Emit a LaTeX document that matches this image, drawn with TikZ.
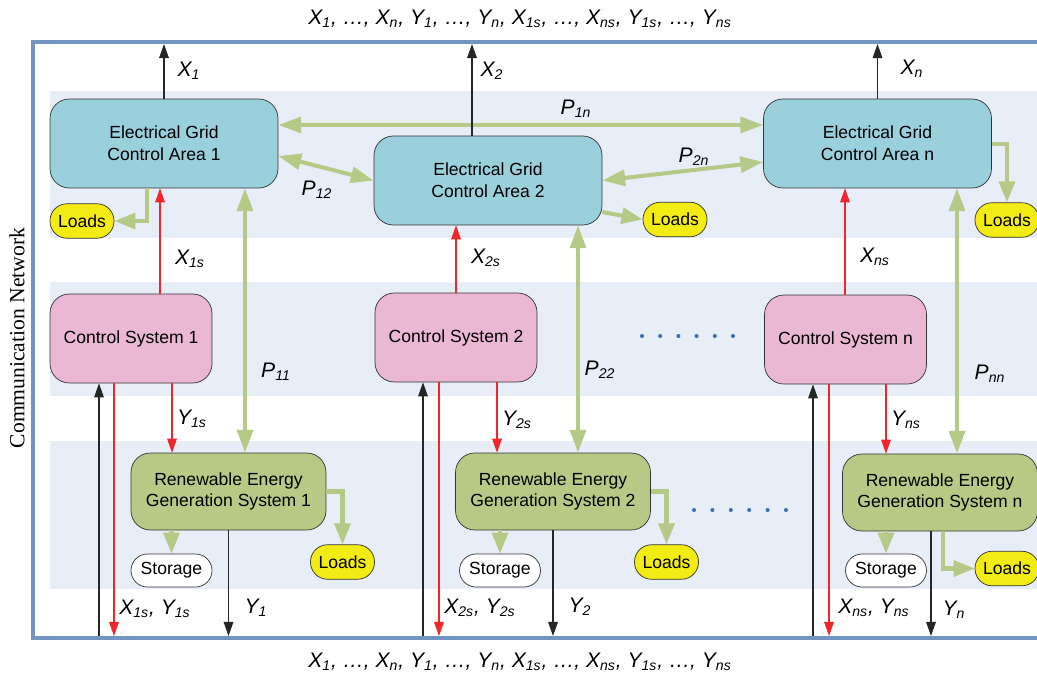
\documentclass[tikz,border=0pt]{standalone}
\usepackage{fontspec}
\setmainfont{Liberation Sans}
\newfontfamily\netfont{Liberation Serif}
\usetikzlibrary{arrows.meta, positioning}
\definecolor{frameblue}{HTML}{7394C0}
\definecolor{bandblue}{HTML}{E8EEF7}
\definecolor{gridfill}{HTML}{9ACFDC}
\definecolor{ctrlfill}{HTML}{EAB7D4}
\definecolor{genfill}{HTML}{B6CA86}
\definecolor{powergreen}{HTML}{B6CA88}
\definecolor{loadyellow}{HTML}{F2EB14}
\definecolor{sigred}{HTML}{F0262A}
\definecolor{dotblue}{HTML}{3F6DB5}
\newcommand{\vsub}[2]{#1\textsubscript{#2}}
\tikzset{
  box/.style={rectangle, draw=black!80, thin, align=center,
              font=\fontsize{10}{12.3}\selectfont, inner sep=2pt},
  gridbox/.style={box, rounded corners=11pt, fill=gridfill,
                  minimum width=4.56cm, minimum height=1.78cm},
  ctrlbox/.style={box, rounded corners=11pt, fill=ctrlfill,
                  minimum width=3.24cm, minimum height=1.78cm},
  genbox/.style={box, rounded corners=11pt, fill=genfill,
                 minimum width=3.9cm, minimum height=1.54cm},
  loadbox/.style={box, rounded corners=0.34cm, fill=loadyellow,
                  minimum width=1.28cm, minimum height=0.69cm},
  storebox/.style={box, rounded corners=0.33cm, fill=white,
                   minimum width=1.62cm, minimum height=0.66cm},
  power/.style={{Triangle[length=13pt,width=9pt]}-{Triangle[length=13pt,width=9pt]},
                line width=2.3pt, draw=powergreen},
  feed/.style={-{Triangle[length=12pt,width=9pt]}, line width=2.3pt,
               draw=powergreen},
  sigline/.style={-{Triangle[length=8pt,width=5.5pt]}, line width=0.6pt,
                  draw=sigred},
  dataline/.style={-{Triangle[length=8pt,width=5.5pt]}, line width=0.6pt,
                   draw=black!85},
  lbl/.style={font=\fontsize{12}{14}\selectfont\itshape, inner sep=0pt},
}

\begin{document}
\begin{tikzpicture}[x=0.02cm, y=-0.02cm]
  \useasboundingbox (0,0) rectangle (1037,680);
  \clip (0,0) rectangle (1037,680);

  %% Layer bands
  \fill[bandblue] (50,91)  rectangle (1040,238);
  \fill[bandblue] (50,282) rectangle (1040,396);
  \fill[bandblue] (50,441) rectangle (1040,589);

  %% Communication network frame
  \draw[frameblue, line width=2.8pt] (1040,42) -- (33,42) -- (33,638) -- (1040,638);
  \coordinate (nettop) at (520,44);
  \coordinate (netbot) at (520,636);
  \node[font=\netfont\fontsize{12.3}{14}\selectfont, rotate=90] (netname)
    at (17,338) {Communication Network};

  %% Electrical grid control areas
  \node[gridbox] (eg1) at (164,143.5)   {Electrical Grid\\Control Area 1};
  \node[gridbox] (eg2) at (488,180.5)   {Electrical Grid\\Control Area 2};
  \node[gridbox] (egn) at (877.5,143.5) {Electrical Grid\\Control Area n};
  \node[loadbox] (ld1) at (82,221)   {Loads};
  \node[loadbox] (ld2) at (675,219.5) {Loads};
  \node[loadbox] (ldn) at (1007,220) {Loads};

  %% Control systems
  \node[ctrlbox] (cs1) at (131,338.5)   {Control System 1};
  \node[ctrlbox] (cs2) at (456,337.5)   {Control System 2};
  \node[ctrlbox] (csn) at (845.5,339.5) {Control System n};

  %% Renewable generation
  \node[genbox] (re1) at (228.5,491.5) {Renewable Energy\\Generation System 1};
  \node[genbox] (re2) at (553,491.5)   {Renewable Energy\\Generation System 2};
  \node[genbox] (ren) at (940,492.5)   {Renewable Energy\\Generation System n};
  \node[storebox] (st1) at (171.5,570.5) {Storage};
  \node[storebox] (st2) at (500,570.5)   {Storage};
  \node[storebox] (stn) at (886,570.5)   {Storage};
  \node[loadbox] (ld1b) at (342.5,562) {Loads};
  \node[loadbox] (ld2b) at (666.5,562) {Loads};
  \node[loadbox] (ldnb) at (1007,568.5) {Loads};

  %% Dots
  \foreach \i in {0,...,5}{
    \fill[dotblue] (642+\i*18.2,336) circle[radius=1.15pt];
    \fill[dotblue] (694+\i*18.4,510) circle[radius=1.15pt];
  }

  %% Power flows
  \draw[power] (eg1.east |- 0,125) -- (egn.west |- 0,125);
  \draw[power] (eg1.east |- 0,156) -- (eg2.west);
  \draw[power] (eg2.east) -- (egn.west |- 0,162);
  \draw[power] (eg1.south -| 245,0) -- (re1.north -| 245,0);
  \draw[power] (eg2.south -| 578,0) -- (re2.north -| 578,0);
  \draw[power] (egn.south -| 957,0) -- (ren.north -| 957,0);
  \draw[feed] (eg1.south -| 147,0) |- (ld1.east);
  \draw[feed] (eg2.east |- 0,212) -- (ld2.west);
  \draw[feed] (egn.east |- 0,144) -| (ldn.north);
  \draw[feed] (re1.south -| st1.north) -- (st1.north);
  \draw[feed] (re2.south -| st2.north) -- (st2.north);
  \draw[feed] (ren.south -| stn.north) -- (stn.north);
  \draw[feed] (re1.east) -| (ld1b.north);
  \draw[feed] (re2.east) -| (ld2b.north);
  \draw[feed] (ren.south -| 943,0) |- (ldnb.west);

  %% Grid states to network
  \draw[dataline] (eg1.north) -- (nettop -| eg1.north);
  \draw[dataline] (eg2.north -| 472,0) -- (nettop -| 472,0);
  \draw[dataline] (egn.north) -- (nettop -| egn.north);

  %% Control signals
  \draw[sigline] (cs1.north -| 160,0) -- (eg1.south -| 160,0);
  \draw[sigline] (cs2.north -| 456,0) -- (eg2.south -| 456,0);
  \draw[sigline] (csn.north -| 845,0) -- (egn.south -| 845,0);
  \draw[sigline] (cs1.south -| 172,0) -- (re1.north -| 172,0);
  \draw[sigline] (cs2.south -| 497,0) -- (re2.north -| 497,0);
  \draw[sigline] (csn.south -| 886,0) -- (ren.north -| 886,0);
  \draw[sigline] (cs1.south -| 114,0) -- (netbot -| 114,0);
  \draw[sigline] (cs2.south -| 439,0) -- (netbot -| 439,0);
  \draw[sigline] (csn.south -| 829,0) -- (netbot -| 829,0);

  %% Network to control systems, generation to network
  \draw[dataline] (netbot -| 99,0)  -- (cs1.south -| 99,0);
  \draw[dataline] (netbot -| 423,0) -- (cs2.south -| 423,0);
  \draw[dataline] (netbot -| 813,0) -- (csn.south -| 813,0);
  \draw[dataline] (re1.south) -- (netbot -| re1.south);
  \draw[dataline] (re2.south) -- (netbot -| re2.south);
  \draw[dataline] (ren.south -| 931,0) -- (netbot -| 931,0);

  %% Labels
  \node[lbl] (toplbl) at (520,19) {\vsub{X}{1}, \dots, \vsub{X}{n}, \vsub{Y}{1}, \dots, \vsub{Y}{n}, \vsub{X}{1s}, \dots, \vsub{X}{ns}, \vsub{Y}{1s}, \dots, \vsub{Y}{ns}};
  \node[lbl] (botlbl) at (520,662) {\vsub{X}{1}, \dots, \vsub{X}{n}, \vsub{Y}{1}, \dots, \vsub{Y}{n}, \vsub{X}{1s}, \dots, \vsub{X}{ns}, \vsub{Y}{1s}, \dots, \vsub{Y}{ns}};
  \node[lbl] (lx1)  at (189,71)  {\vsub{X}{1}};
  \node[lbl] (lx2)  at (492,71)  {\vsub{X}{2}};
  \node[lbl] (lxn)  at (912,69)  {\vsub{X}{n}};
  \node[lbl] (lp1n) at (576,109) {\vsub{P}{1n}};
  \node[lbl] (lp12) at (317,190) {\vsub{P}{12}};
  \node[lbl] (lp2n) at (694,157) {\vsub{P}{2n}};
  \node[lbl] (lx1s) at (190,259) {\vsub{X}{1s}};
  \node[lbl] (lx2s) at (486,258) {\vsub{X}{2s}};
  \node[lbl] (lxns) at (875,257) {\vsub{X}{ns}};
  \node[lbl] (lp11) at (276,372) {\vsub{P}{11}};
  \node[lbl] (lp22) at (600,370) {\vsub{P}{22}};
  \node[lbl] (lpnn) at (990,374) {\vsub{P}{nn}};
  \node[lbl] (ly1s) at (192,419) {\vsub{Y}{1s}};
  \node[lbl] (ly2s) at (517,420) {\vsub{Y}{2s}};
  \node[lbl] (lyns) at (906,420) {\vsub{Y}{ns}};
  \node[lbl] (lxy1) at (155,609) {\vsub{X}{1s}, \vsub{Y}{1s}};
  \node[lbl] (lxy2) at (480,608) {\vsub{X}{2s}, \vsub{Y}{2s}};
  \node[lbl] (lxyn) at (874,608) {\vsub{X}{ns}, \vsub{Y}{ns}};
  \node[lbl] (ly1)  at (256,608) {\vsub{Y}{1}};
  \node[lbl] (ly2)  at (580,607) {\vsub{Y}{2}};
  \node[lbl] (lyn)  at (954,610) {\vsub{Y}{n}};
\end{tikzpicture}
\end{document}
